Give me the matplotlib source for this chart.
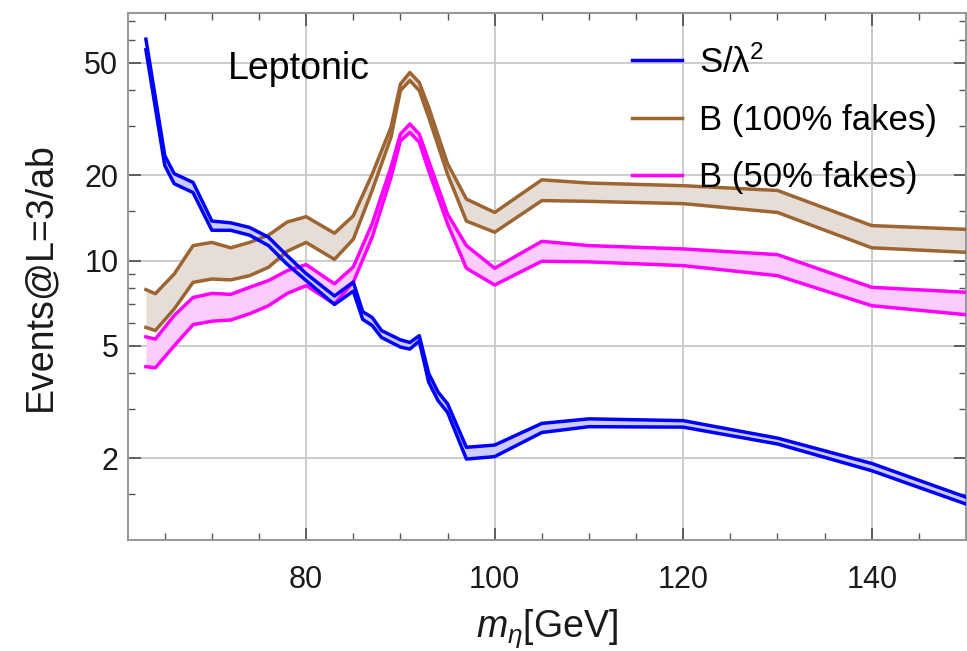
import matplotlib
matplotlib.use("Agg")
import matplotlib.pyplot as plt
import numpy as np

plt.rcParams['font.family'] = ['Liberation Sans', 'DejaVu Sans']
plt.rcParams['mathtext.fontset'] = 'custom'
plt.rcParams['mathtext.rm'] = 'Liberation Sans'
plt.rcParams['mathtext.it'] = 'Liberation Sans:italic'

# ---- data ----
x_sig = [63, 65, 66, 68, 70, 72, 74, 76, 78, 80, 83, 85, 86, 87, 88, 90, 91, 92, 93, 94, 95,
         97, 100, 105, 110, 120, 130, 140, 150]
sig_lo = [55.6, 21.7, 18.7, 17.4, 12.8, 12.8, 12.3, 11.3, 9.7, 8.5, 7.0, 7.8, 6.2, 5.9, 5.35,
          4.95, 4.87, 5.2, 3.72, 3.2, 2.91, 1.99, 2.03, 2.47, 2.59, 2.58, 2.25, 1.81, 1.38]
sig_hi = [60.6, 23.5, 20.3, 18.9, 13.8, 13.6, 13.1, 12.1, 10.4, 9.0, 7.5, 8.4, 6.6, 6.3, 5.66,
          5.25, 5.14, 5.43, 3.99, 3.43, 3.12, 2.19, 2.23, 2.66, 2.76, 2.72, 2.36, 1.92, 1.46]

x_bkg = [63, 64, 66, 68, 70, 72, 74, 76, 78, 80, 83, 85, 87, 89, 90, 91, 92, 93, 95, 97,
         100, 105, 110, 120, 130, 140, 150]
b100_lo = [5.81, 5.66, 6.75, 8.38, 8.61, 8.55, 8.85, 9.47, 10.8, 11.6, 10.1, 11.9, 17.7, 27.3,
           39.9, 43.3, 39.9, 32.1, 20.2, 13.8, 12.6, 16.3, 16.2, 15.9, 14.8, 11.1, 10.7]
b100_hi = [7.9, 7.64, 8.97, 11.3, 11.6, 11.1, 11.6, 12.3, 13.7, 14.3, 12.5, 14.4, 20.2, 29.6,
           42.1, 46.2, 42.6, 34.8, 22.0, 16.5, 14.8, 19.3, 18.8, 18.4, 17.7, 13.3, 12.9]
b50_lo = [4.22, 4.18, 5.0, 5.94, 6.11, 6.17, 6.49, 6.93, 7.66, 8.16, 7.03, 8.4, 12.1, 19.7,
          26.5, 28.4, 26.2, 20.8, 13.5, 9.4, 8.2, 9.95, 9.9, 9.6, 8.85, 6.93, 6.44]
b50_hi = [5.38, 5.28, 6.4, 7.41, 7.66, 7.6, 8.05, 8.5, 9.22, 9.68, 8.28, 9.5, 13.5, 21.4,
          28.0, 30.4, 28.0, 22.5, 14.6, 11.3, 9.4, 11.7, 11.3, 11.0, 10.5, 8.05, 7.73]

labels = ["S/λ$^2$", "B (100% fakes)", "B (50% fakes)"]
y_major = [2, 5, 10, 20, 50]
y_minor = [1.5, 3, 4, 6, 7, 8, 9, 15, 30, 40, 60, 70]
x_major = [80, 100, 120, 140]
x_minor = [65, 70, 75, 85, 90, 95, 105, 110, 115, 125, 130, 135, 145, 150]

BLUE = '#0000ff'
BROWN = '#9c6532'
MAG = '#ff00ff'

fig = plt.figure(figsize=(9.67, 6.51), dpi=100)
W, H = 967, 651
ax = fig.add_axes([128 / W, 1 - 540 / H, (966 - 128) / W, (540 - 13) / H])

ax.set_yscale('log')
ax.set_xlim(61.1, 150)
ax.set_ylim(1.03, 75)

lw = 2.5
# fills
ax.fill_between(x_bkg, b100_lo, b100_hi, color='#e6ddd6', lw=0, zorder=1)
ax.fill_between(x_bkg, b50_lo, b50_hi, color='#fccdfc', lw=0, zorder=1)
ax.fill_between(x_sig, sig_lo, sig_hi, color='#ccccff', lw=0, zorder=1)
# lines
ax.plot(x_bkg, b100_lo, color=BROWN, lw=lw, zorder=3)
ax.plot(x_bkg, b100_hi, color=BROWN, lw=lw, zorder=3)
ax.plot(x_bkg, b50_lo, color=MAG, lw=lw, zorder=4)
ax.plot(x_bkg, b50_hi, color=MAG, lw=lw, zorder=4)
ax.plot(x_sig, sig_lo, color=BLUE, lw=lw, zorder=5)
ax.plot(x_sig, sig_hi, color=BLUE, lw=lw, zorder=5)

# legend handles
h1, = ax.plot([], [], color=BLUE, lw=lw)
h2, = ax.plot([], [], color=BROWN, lw=lw)
h3, = ax.plot([], [], color=MAG, lw=lw)
leg = ax.legend([h1, h2, h3], labels, loc='upper left', bbox_to_anchor=(0.601, 0.939),
                frameon=False, fontsize=25, handlelength=1.45, handletextpad=0.5,
                labelspacing=0.70, borderpad=0, borderaxespad=0)

ax.text(0.119, 0.893, 'Leptonic', transform=ax.transAxes, fontsize=27,
        ha='left', va='center')

# ticks
ax.set_yticks(y_major)
ax.set_yticklabels([str(v) for v in y_major])
ax.set_yticks(y_minor, minor=True)
ax.yaxis.set_minor_formatter(matplotlib.ticker.NullFormatter())
ax.set_xticks(x_major)
ax.set_xticklabels([str(v) for v in x_major])
ax.set_xticks(x_minor, minor=True)

ax.tick_params(which='both', direction='in', top=True, right=True, colors='#555555',
               labelcolor='#1a1a1a')
ax.tick_params(which='major', length=9, width=1.3, labelsize=22)
ax.tick_params(axis='y', which='major', pad=7)
ax.tick_params(axis='x', which='major', pad=18)
ax.tick_params(which='minor', length=5, width=1.0)

ax.grid(True, which='major', color='#c8c8c8', lw=1.3, zorder=0)
ax.set_axisbelow(True)
for s in ax.spines.values():
    s.set_color('#999999')
    s.set_linewidth(1.5)

ax.set_ylabel('Events@L=3/ab', fontsize=27, color='#1a1a1a')
ax.yaxis.set_label_coords(-0.083, 0.5)
ax.set_xlabel(r'$m_\eta$[GeV]', fontsize=27, color='#1a1a1a')
ax.xaxis.set_label_coords(0.5, -0.128)

fig.savefig('out.png', dpi=100)
